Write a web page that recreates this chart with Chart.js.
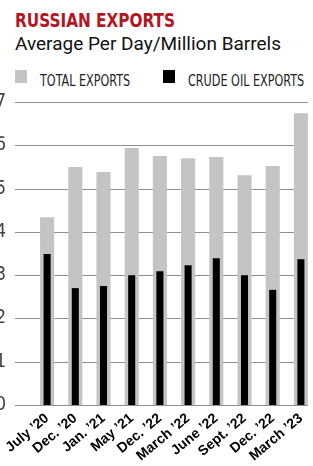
<!DOCTYPE html>
<html>
<head>
<meta charset="utf-8">
<script src="https://cdn.jsdelivr.net/npm/chart.js@4.4.0/dist/chart.umd.min.js"></script>
<style>
  body { margin: 0; width: 313px; height: 466px; overflow: hidden; background: #fff; position: relative; }
  .txt { position: absolute; white-space: nowrap; line-height: 1; transform-origin: left top; }
  #title { left: 15px; top: 8px; font: bold 20px "Liberation Sans Narrow", "DejaVu Sans Condensed", sans-serif; color: #b5161e; transform: scaleX(0.85); }
  #subtitle { left: 15px; top: 32px; font: 19px Roboto, sans-serif; color: #111; }
  .sw { position: absolute; top: 70px; width: 12px; height: 13px; }
  .lg { top: 72px; font: 15px "Liberation Sans Narrow", "DejaVu Sans Condensed", sans-serif; color: #222; transform: scaleX(0.83); }
  #chart { position: absolute; left: 0; top: 0; }
</style>
</head>
<body>
<div id="title" class="txt">RUSSIAN EXPORTS</div>
<div id="subtitle" class="txt">Average Per Day/Million Barrels</div>
<div class="sw" style="left:15px;background:#c4c4c4"></div>
<div class="txt lg" style="left:40px">TOTAL EXPORTS</div>
<div class="sw" style="left:163px;background:#000"></div>
<div class="txt lg" style="left:188px">CRUDE OIL EXPORTS</div>
<canvas id="chart" width="316" height="466"></canvas>
<script>
const periods = ["July \u201920", "Dec. \u201920", "Jan. \u201921", "May \u201921", "Dec. \u201922",
  "March \u201922", "June \u201922", "Sept. \u201922", "Dec. \u201922", "March \u201923"];
const totalExports = [4.34, 5.50, 5.38, 5.94, 5.75, 5.70, 5.73, 5.31, 5.52, 6.74];
const crudeExports = [3.49, 2.70, 2.75, 3.00, 3.09, 3.23, 3.39, 3.00, 2.66, 3.37];
const yTicks = [0, 1, 2, 3, 4, 5, 6, 7];

// horizontal rules: from the y tick mark to the right edge of the last bar
const gridPlugin = {
  id: "rules",
  beforeDatasetsDraw(chart) {
    const y = chart.scales.y;
    const meta = chart.getDatasetMeta(1);
    const last = meta.data[meta.data.length - 1];
    const x0 = y.right - 18;
    const x1 = last.x + last.width / 2;
    const ctx = chart.ctx;
    ctx.save();
    ctx.strokeStyle = "#8f8f8f";
    ctx.lineWidth = 1;
    yTicks.forEach(v => {
      const py = Math.round(y.getPixelForValue(v)) + 0.5;
      ctx.beginPath();
      ctx.moveTo(x0, py);
      ctx.lineTo(x1, py);
      ctx.stroke();
    });
    ctx.restore();
  }
};

new Chart(document.getElementById("chart"), {
  type: "bar",
  data: {
    labels: periods,
    datasets: [
      { label: "Crude Oil Exports", data: crudeExports, backgroundColor: "#000",
        grouped: false, barPercentage: 0.25, categoryPercentage: 1 },
      { label: "Total Exports", data: totalExports, backgroundColor: "#c4c4c4",
        grouped: false, barPercentage: 0.5, categoryPercentage: 1 }
    ]
  },
  options: {
    responsive: false,
    animation: false,
    layout: { padding: { top: 102, right: 1, left: 0, bottom: 0 } },
    plugins: { legend: { display: false }, title: { display: false }, tooltip: { enabled: false } },
    scales: {
      x: {
        grid: { display: false, drawTicks: false },
        border: { display: false },
        ticks: {
          autoSkip: false, minRotation: 40, maxRotation: 40, padding: 5,
          color: "#000", font: { family: "Liberation Sans, Arial, sans-serif", size: 14, weight: "bold" }
        },
        afterFit: s => { s.height = 61; s.paddingLeft = 0; s.paddingRight = 0; }
      },
      y: {
        min: 0, max: 7,
        grid: { display: false, drawTicks: false },
        border: { display: false },
        afterBuildTicks: s => { s.ticks = yTicks.map(v => ({ value: v })); },
        ticks: {
          padding: 27, color: "#444",
          font: { family: "Liberation Sans Narrow, DejaVu Sans Condensed, sans-serif", size: 19 }
        },
        afterFit: s => { s.width = 33; s.paddingTop = 0; s.paddingBottom = 0; }
      }
    }
  },
  plugins: [gridPlugin]
});
</script>
</body>
</html>
